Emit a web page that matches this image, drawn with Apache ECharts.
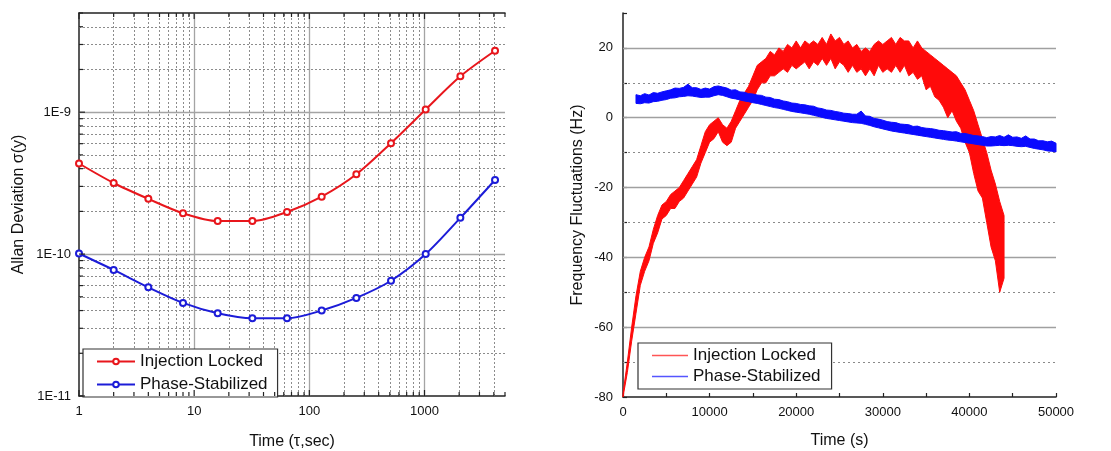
<!DOCTYPE html>
<html>
<head>
<meta charset="utf-8">
<script src="https://cdn.jsdelivr.net/npm/echarts@6/dist/echarts.min.js"></script>
<style>
  html, body { margin: 0; padding: 0; background: #fff; }
  #chart { width: 1111px; height: 451px; }
</style>
</head>
<body>
<div id="chart"></div>
<script>
// ---- Allan deviation vs averaging time (left panel) ----
const tau = [1, 2, 4, 8, 16, 32, 64, 128, 256, 512, 1024, 2048, 4096];
const adevInjection = [4.35e-10, 3.17e-10, 2.45e-10, 1.94e-10, 1.71e-10, 1.71e-10, 1.98e-10,
                       2.54e-10, 3.65e-10, 6.05e-10, 1.045e-9, 1.79e-9, 2.71e-9];
const adevPhase = [1.01e-10, 7.73e-11, 5.83e-11, 4.53e-11, 3.83e-11, 3.53e-11, 3.53e-11,
                   4.0e-11, 4.91e-11, 6.49e-11, 1.0e-10, 1.8e-10, 3.33e-10];
const tauDecades = [1, 10, 100, 1000];
const tauRange = [1, 5000];
const adevRange = [1e-11, 5e-9];

// ---- Frequency record vs time (right panel) ----
// upper / lower edge of each noisy trace, every 500 s
const injStart = 0, injStep = 500;
const injHigh = [
  -79, -70, -60, -51, -44, -40, -37, -32, -28, -25,
  -24, -22, -21, -20, -18, -16, -14, -12, -8, -4,
  -2, -1, 0, -2, -3, -1, 2, 5, 7, 9,
  12, 15, 16, 17, 19, 18, 20, 19, 21, 20,
  22, 20, 22, 21, 22, 21, 23, 21, 24, 22,
  23, 21, 22, 20, 21, 19, 20, 19, 21, 22,
  21, 22, 23, 21, 23, 22, 22, 20, 22, 20,
  19, 18, 17, 16, 15, 14, 13, 12, 10, 8,
  5, 2, -2, -6, -10, -15, -19, -24, -28
];
const injLow = [
  -80, -73, -64, -56, -48, -44, -41, -36, -33, -29,
  -28, -26, -26, -24, -23, -21, -19, -17, -13, -10,
  -7, -6, -4, -7, -8, -7, -3, -1, 1, 3,
  5, 8, 10, 10, 12, 12, 13, 14, 13, 15,
  14, 15, 16, 14, 16, 15, 17, 15, 17, 14,
  16, 15, 13, 15, 13, 14, 12, 14, 12, 15,
  13, 14, 13, 15, 13, 15, 12, 13, 11, 12,
  8, 9, 6, 5, 3, 0, 2, -1, -3, -7,
  -10, -16, -21, -23, -30, -37, -41, -50, -46
];
const phaseStart = 1500, phaseStep = 500;
const phaseHigh = [
  6.6, 6.3, 6.9, 6.5, 7.2, 7.0, 7.4, 7.7, 8.0, 8.5,
  8.4, 8.7, 9.6, 8.6, 8.6, 8.1, 8.5, 8.2, 8.9, 9.1,
  8.8, 8.5, 7.9, 8.0, 7.4, 7.3, 6.9, 6.8, 6.5, 6.4,
  5.9, 5.8, 5.3, 5.2, 4.8, 4.6, 4.2, 4.1, 3.8, 3.7,
  3.4, 3.3, 2.8, 2.6, 2.2, 2.1, 1.8, 1.6, 1.3, 1.2,
  1.0, 1.0, 1.9, 0.5, 0.4, -0.2, -0.4, -0.7, -1.1, -1.3,
  -1.4, -1.8, -1.9, -2.0, -2.5, -2.4, -2.8, -3.0, -3.1, -3.3,
  -3.6, -3.7, -3.9, -4.1, -4.0, -4.5, -4.5, -4.8, -5.1, -5.2,
  -5.4, -5.7, -5.4, -5.5, -5.1, -5.6, -4.9, -5.6, -5.5, -5.9,
  -5.2, -6.1, -6.1, -6.6, -6.6, -6.9, -6.7, -7.3
];
const phaseLow = [
  4.1, 4.0, 4.3, 4.2, 4.6, 4.7, 5.0, 5.2, 5.6, 5.7,
  6.0, 6.1, 6.3, 6.2, 6.0, 5.8, 5.9, 5.9, 6.3, 6.6,
  6.4, 6.0, 5.6, 5.4, 5.1, 4.8, 4.6, 4.3, 4.1, 3.8,
  3.5, 3.2, 2.9, 2.7, 2.4, 2.1, 1.8, 1.6, 1.4, 1.2,
  1.0, 0.7, 0.4, 0.1, -0.2, -0.4, -0.6, -0.8, -1.0, -1.2,
  -1.4, -1.5, -1.6, -1.9, -2.2, -2.6, -2.9, -3.2, -3.5, -3.8,
  -4.0, -4.2, -4.4, -4.6, -4.8, -5.0, -5.2, -5.4, -5.6, -5.8,
  -6.0, -6.2, -6.4, -6.5, -6.7, -6.9, -7.1, -7.3, -7.5, -7.7,
  -7.9, -8.1, -8.1, -8.0, -7.9, -8.0, -7.9, -8.0, -8.2, -8.3,
  -8.2, -8.5, -8.8, -9.0, -9.2, -9.5, -9.6, -9.8
];
const freqRange = [-80, 30];
const timeRange = [0, 50000];
const freqSolidLines = [-60, -40, -20, 0, 20];
const freqDottedLines = [-70, -50, -30, -10, 10];

const legendText = {
  adevInj: 'Injection Locked', adevPhase: 'Phase-Stabilized',
  recInj: 'Injection Locked', recPhase: 'Phase-Stabilized'
};

const FONT = '"Liberation Sans", Arial, sans-serif';
const RED_L = '#e8161c', BLUE_L = '#1c1cd8';
const RED_R = '#ff0a0a', BLUE_R = '#0a0aff';

// log grid positions: mantissa 1..9 in every decade inside a range
function logPositions(lo, hi) {
  const out = [];
  for (let e = Math.floor(Math.log10(lo)); e <= Math.ceil(Math.log10(hi)); e++) {
    for (let m = 1; m <= 9; m++) {
      const v = +(m * Math.pow(10, e)).toPrecision(6);
      if (v >= lo * 0.999 && v <= hi * 1.001) out.push({ v, major: m === 1 });
    }
  }
  return out;
}
const tauGrid = logPositions(tauRange[0], tauRange[1]);
const adevGrid = logPositions(adevRange[0], adevRange[1]);

function isDecade(v) {
  const e = Math.log10(v);
  return Math.abs(e - Math.round(e)) < 1e-6;
}

const solidGrid = { color: '#a4a4a4', width: 1.3, type: 'solid' };
const dotGrid = { color: '#8c8c8c', width: 1, type: [2, 2] };

// gridlines as two-point mark lines so both ends go through the log scales
const leftMarkLines = [];
tauGrid.forEach(g => {
  if (g.v <= tauRange[0] || g.v >= tauRange[1]) return;
  const ls = g.major ? solidGrid : dotGrid;
  leftMarkLines.push([{ coord: [g.v, adevRange[0]], lineStyle: ls }, { coord: [g.v, adevRange[1]] }]);
});
adevGrid.forEach(g => {
  if (g.v <= adevRange[0] || g.v >= adevRange[1]) return;
  const ls = g.major ? solidGrid : dotGrid;
  leftMarkLines.push([{ coord: [tauRange[0], g.v], lineStyle: ls }, { coord: [tauRange[1], g.v] }]);
});

const rightMarkLines = [];
freqDottedLines.forEach(v => rightMarkLines.push({ yAxis: v, lineStyle: { color: '#8a8a8a', width: 1, type: [2, 3] } }));
freqSolidLines.forEach(v => rightMarkLines.push({ yAxis: v, lineStyle: { color: '#a0a0a0', width: 1.3, type: 'solid' } }));

// tick marks on the log frame (x ticks: flag 0, y ticks: flag 1)
const tickItems = [];
tauGrid.forEach(g => tickItems.push([g.v, adevRange[0], 0, g.major ? 1 : 0]));
adevGrid.forEach(g => tickItems.push([tauRange[0], g.v, 1, g.major ? 1 : 0]));

// noisy traces: rows of [time, low, high]
const injRows = injHigh.map((h, i) => [injStart + i * injStep, injLow[i], h]);
const phaseRows = phaseHigh.map((h, i) => [phaseStart + i * phaseStep, phaseLow[i], h]);

// one filled band per trace, built from the first row's render call
function bandRenderer(rows, color) {
  return (params, api) => {
    if (params.dataIndex !== 0) return null;
    const upper = rows.map(r => api.coord([r[0], r[2]]));
    const lower = rows.map(r => api.coord([r[0], r[1]])).reverse();
    return {
      type: 'polygon',
      shape: { points: upper.concat(lower) },
      style: { fill: color, stroke: color, lineWidth: 1, lineJoin: 'miter' }
    };
  };
}

const chart = echarts.init(document.getElementById('chart'), null, { renderer: 'canvas' });
chart.setOption({
  animation: false,
  backgroundColor: '#fff',
  textStyle: { fontFamily: FONT },
  grid: [
    { left: 79, right: 606, top: 13, bottom: 55, outerBoundsMode: 'none' },
    { left: 623, right: 55, top: 13, bottom: 54, outerBoundsMode: 'none' }
  ],
  legend: [
    {
      left: 83, top: 349, orient: 'vertical', selectedMode: false,
      data: ['adevInj', 'adevPhase'],
      formatter: n => legendText[n],
      itemWidth: 38, itemHeight: 7, itemGap: 4,
      padding: [3, 10, 3, 13],
      backgroundColor: '#fff', borderColor: '#333', borderWidth: 1.2,
      textStyle: { fontSize: 17, color: '#111', fontFamily: FONT, lineHeight: 19 }
    },
    {
      left: 638, top: 343, orient: 'vertical', selectedMode: false,
      data: [
        { name: 'recInj', icon: 'rect', itemStyle: { color: '#f55' } },
        { name: 'recPhase', icon: 'rect', itemStyle: { color: '#55f' } }
      ],
      formatter: n => legendText[n],
      itemWidth: 36, itemHeight: 1.5, itemGap: 2,
      padding: [3, 11, 3, 14],
      backgroundColor: '#fff', borderColor: '#333', borderWidth: 1.2,
      textStyle: { fontSize: 17, color: '#111', fontFamily: FONT, lineHeight: 19 }
    }
  ],
  xAxis: [
    {
      type: 'log', gridIndex: 0, min: tauRange[0], max: tauRange[1], logBase: 10,
      name: 'Time (\u03c4,sec)', nameLocation: 'middle', nameGap: 38,
      nameTextStyle: { fontSize: 16, color: '#111', fontFamily: FONT },
      axisLine: { show: true, onZero: false, lineStyle: { color: '#222', width: 1.5 } },
      axisTick: { show: false }, splitLine: { show: false },
      axisLabel: {
        fontSize: 13, color: '#111', margin: 9, fontFamily: FONT,
        formatter: v => (isDecade(v) && tauDecades.includes(Math.round(v))) ? String(Math.round(v)) : ''
      }
    },
    {
      type: 'log', gridIndex: 0, position: 'top', min: tauRange[0], max: tauRange[1], logBase: 10,
      axisLine: { show: true, onZero: false, lineStyle: { color: '#222', width: 1.5 } },
      axisTick: { show: false }, axisLabel: { show: false }, splitLine: { show: false }
    },
    {
      type: 'value', gridIndex: 1, min: timeRange[0], max: timeRange[1], interval: 5000,
      name: 'Time (s)', nameLocation: 'middle', nameGap: 36,
      nameTextStyle: { fontSize: 16, color: '#111', fontFamily: FONT },
      axisLine: { show: true, onZero: false, lineStyle: { color: '#222', width: 1.5 } },
      axisTick: { show: true, inside: true, length: 4, lineStyle: { color: '#222', width: 1.2 } },
      splitLine: { show: false },
      axisLabel: {
        fontSize: 13, color: '#111', margin: 9, fontFamily: FONT,
        formatter: v => timeTicksShown(v)
      }
    }
  ],
  yAxis: [
    {
      type: 'log', gridIndex: 0, min: adevRange[0], max: adevRange[1], logBase: 10,
      name: 'Allan Deviation \u03c3(y)', nameLocation: 'middle', nameGap: 52,
      nameTextStyle: { fontSize: 16, color: '#111', fontFamily: FONT },
      axisLine: { show: true, onZero: false, lineStyle: { color: '#222', width: 1.5 } },
      axisTick: { show: false }, splitLine: { show: false },
      axisLabel: {
        fontSize: 13, color: '#111', margin: 8, fontFamily: FONT,
        formatter: v => isDecade(v) ? '1E' + Math.round(Math.log10(v)) : ''
      }
    },
    {
      type: 'value', gridIndex: 1, min: freqRange[0], max: freqRange[1], interval: 10,
      name: 'Frequency Fluctuations (Hz)', nameLocation: 'middle', nameGap: 37,
      nameTextStyle: { fontSize: 16, color: '#111', fontFamily: FONT },
      axisLine: { show: true, onZero: false, lineStyle: { color: '#222', width: 1.5 } },
      axisTick: { show: true, inside: true, length: 4, lineStyle: { color: '#222', width: 1.2 } },
      splitLine: { show: false },
      axisLabel: {
        fontSize: 13, color: '#111', margin: 10, fontFamily: FONT,
        formatter: v => freqTicksShown(v)
      }
    }
  ],
  series: [
    {
      name: 'adevInj', type: 'line', xAxisIndex: 0, yAxisIndex: 0, z: 3,
      data: tau.map((t, i) => [t, adevInjection[i]]),
      smooth: 0.3, symbol: 'emptyCircle', symbolSize: 6,
      lineStyle: { color: RED_L, width: 2 },
      itemStyle: { color: RED_L, borderWidth: 1.5 },
      markLine: {
        silent: true, symbol: ['none', 'none'], label: { show: false }, z: 1,
        animation: false, data: leftMarkLines
      }
    },
    {
      name: 'adevPhase', type: 'line', xAxisIndex: 0, yAxisIndex: 0, z: 3,
      data: tau.map((t, i) => [t, adevPhase[i]]),
      smooth: 0.3, symbol: 'emptyCircle', symbolSize: 6,
      lineStyle: { color: BLUE_L, width: 2 },
      itemStyle: { color: BLUE_L, borderWidth: 1.5 }
    },
    {
      name: 'frameTicks', type: 'custom', xAxisIndex: 0, yAxisIndex: 0, z: 4, silent: true,
      clip: false, data: tickItems,
      renderItem: (params, api) => {
        const len = api.value(3) ? 6 : 4;
        const style = { stroke: '#222', lineWidth: 1.2 };
        if (api.value(2) === 0) {
          const b = api.coord([api.value(0), adevRange[0]]);
          const t = api.coord([api.value(0), adevRange[1]]);
          return { type: 'group', children: [
            { type: 'line', shape: { x1: b[0], y1: b[1], x2: b[0], y2: b[1] - len }, style },
            { type: 'line', shape: { x1: t[0], y1: t[1], x2: t[0], y2: t[1] + len }, style }
          ] };
        }
        const p = api.coord([tauRange[0], api.value(1)]);
        return { type: 'line', shape: { x1: p[0], y1: p[1], x2: p[0] + len, y2: p[1] }, style };
      }
    },
    {
      name: 'recInj', type: 'custom', xAxisIndex: 2, yAxisIndex: 1, z: 3,
      data: injRows, encode: { x: 0, y: [1, 2] },
      renderItem: bandRenderer(injRows, RED_R),
      itemStyle: { color: RED_R },
      markLine: {
        silent: true, symbol: ['none', 'none'], label: { show: false }, z: 1,
        animation: false, data: rightMarkLines
      }
    },
    {
      name: 'recPhase', type: 'custom', xAxisIndex: 2, yAxisIndex: 1, z: 4,
      data: phaseRows, encode: { x: 0, y: [1, 2] },
      renderItem: bandRenderer(phaseRows, BLUE_R),
      itemStyle: { color: BLUE_R }
    }
  ]
});

function timeTicksShown(v) { return v % 10000 === 0 ? String(v) : ''; }
function freqTicksShown(v) { return v % 20 === 0 ? String(v) : ''; }
</script>
</body>
</html>
